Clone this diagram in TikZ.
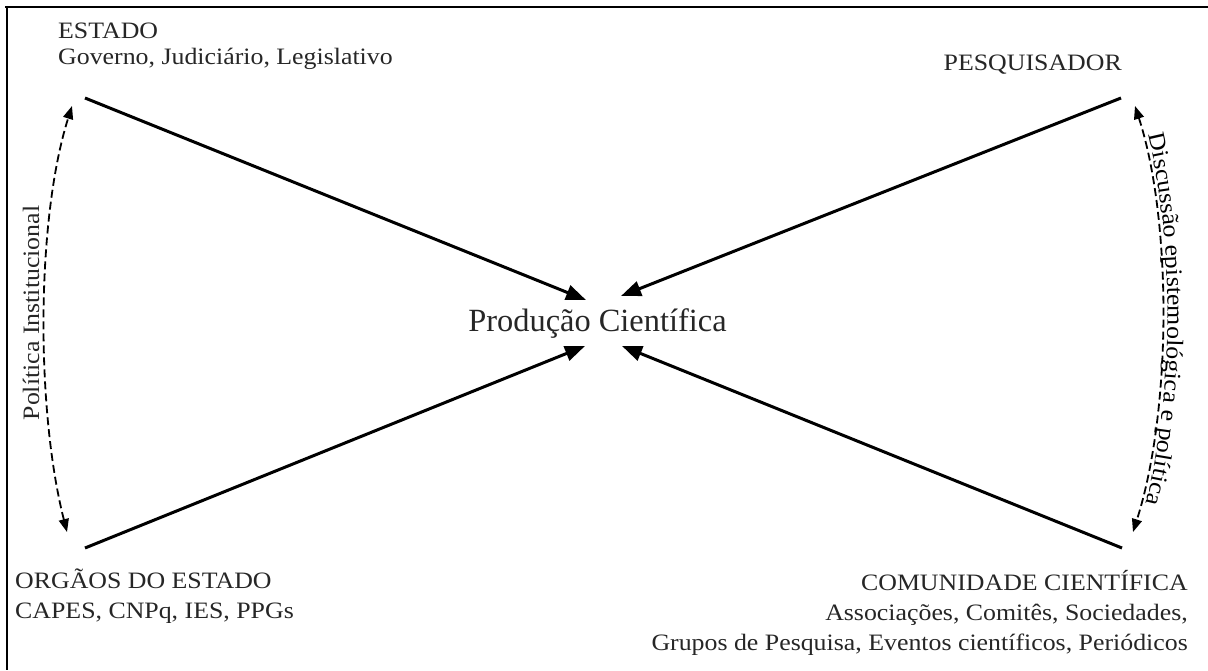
\documentclass[tikz,border=0pt]{standalone}
\usepackage{fontspec}
\setmainfont{Liberation Serif}
\newfontfamily\labfont[FakeStretch=1.1]{Liberation Serif}
\usetikzlibrary{arrows.meta,decorations.text}

\begin{document}
\begin{tikzpicture}[x=1pt,y=-1pt,
  lbl/.style={font=\labfont\fontsize{23.5}{30}\selectfont, inner sep=0pt, text=black!85},
  mainarrow/.style={line width=3pt, -{Triangle[length=20pt,width=15pt]}},
  dsharrow/.style={line width=1.8pt, dash pattern=on 8pt off 4pt,
    {Triangle[length=13pt,width=10pt]}-{Triangle[length=13pt,width=10pt]}},
  framestyle/.style={line width=2.5pt}]
\useasboundingbox (0,0) rectangle (1208,670);

% frame (top and left edges)
\draw[framestyle] (5,7) -- (1208,7);
\draw[framestyle] (7,5.75) -- (7,670);

% texts (anchor = baseline of the last line)
\node[lbl, anchor=base west, align=left, font=\labfont\fontsize{23.5}{26}\selectfont] (estado) at (58,64)
  {ESTADO\\Governo, Judiciário, Legislativo};
\node[lbl, anchor=base east] (pesq) at (1122,70) {PESQUISADOR};
\node[inner sep=0pt, anchor=base, font=\fontsize{32.4}{36}\selectfont, text=black!85] (prod) at (597.5,331)
  {Produção Científica};
\node[lbl, anchor=base west, align=left] (orgaos) at (15,618)
  {ORGÃOS DO ESTADO\\CAPES, CNPq, IES, PPGs};
\node[lbl, anchor=base east, align=right] (comun) at (1188,650)
  {COMUNIDADE CIENTÍFICA\\Associações, Comitês, Sociedades,\\Grupos de Pesquisa, Eventos científicos, Periódicos};

% arrow end points
\coordinate (sTL) at (85,98);
\coordinate (sTR) at (1121,98);
\coordinate (sBL) at (85,548);
\coordinate (sBR) at (1122,548);
\coordinate (tTL) at (586,300);
\coordinate (tTR) at (621,296);
\coordinate (tBL) at (585,346);
\coordinate (tBR) at (622,346);

\draw[mainarrow] (sTL) -- (tTL);
\draw[mainarrow] (sTR) -- (tTR);
\draw[mainarrow] (sBL) -- (tBL);
\draw[mainarrow] (sBR) -- (tBR);

% dashed curved arrows
\coordinate (lt) at (72,106);
\coordinate (lb) at (67,532);
\coordinate (rt) at (1135,106);
\coordinate (rb) at (1133,532);

\draw[dsharrow] (lb) .. controls (36,410) and (36,220) .. (lt);
\draw[dsharrow] (rt) .. controls (1172,220) and (1172,410) .. (rb);

\node[lbl, rotate=90] (polinst) at (31,313) {Política Institucional};

\path[decorate, decoration={text along path,
  text={|\labfont\fontsize{23.5}{30}\selectfont|Discussão epistemológica e política},
  text align=center, raise=5pt}]
  (rt) .. controls (1172,220) and (1172,410) .. (rb);
\end{tikzpicture}
\end{document}
